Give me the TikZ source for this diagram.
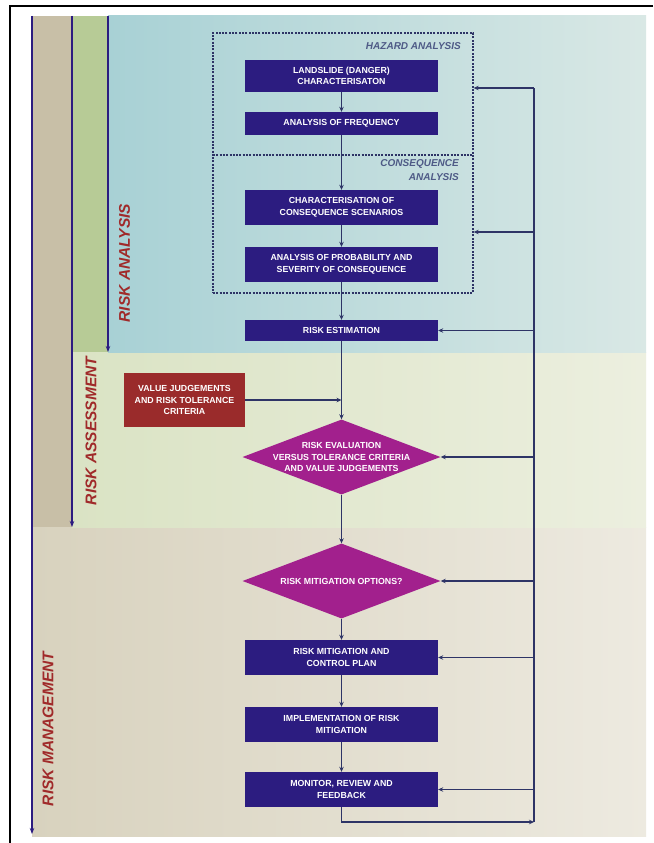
\documentclass[tikz,border=0pt]{standalone}
\usepackage{fontspec}
\setmainfont{Liberation Sans}
\usetikzlibrary{arrows.meta,shapes.geometric}
\definecolor{navy}{HTML}{2C1C80}
\definecolor{lineC}{HTML}{2E3466}
\definecolor{redbox}{HTML}{9A2B2B}
\definecolor{mag}{HTML}{A2208D}
\definecolor{lbl}{HTML}{A02A2A}
\definecolor{hzc}{HTML}{4E5A86}
\definecolor{tanS}{HTML}{C8BFA7}
\definecolor{tanL}{HTML}{D8D2BE}
\definecolor{tanR}{HTML}{EDEAE0}
\definecolor{grnS}{HTML}{B7CB96}
\definecolor{grnL}{HTML}{DAE3C4}
\definecolor{grnR}{HTML}{ECEFDF}
\definecolor{bluL}{HTML}{A8D1D5}
\definecolor{bluR}{HTML}{D9E8E5}
\begin{document}
\begin{tikzpicture}[x=1pt,y=-1pt,
  box/.style={rectangle, fill=navy, text=white, font=\bfseries\fontsize{8.8}{11.5}\selectfont, align=center, minimum width=193pt, inner sep=0pt},
  vbox/.style={rectangle, fill=redbox, text=white, font=\bfseries\fontsize{8.8}{11.5}\selectfont, align=center, minimum width=121pt, minimum height=54pt, inner sep=0pt},
  dia/.style={diamond, fill=mag, minimum width=198pt, minimum height=75pt, inner sep=0pt},
  diatext/.style={text=white, font=\bfseries\fontsize{8.8}{11.5}\selectfont, align=center, inner sep=0pt},
  side/.style={text=lbl, font=\bfseries\itshape\fontsize{15.5}{18}\selectfont, rotate=90, inner sep=0pt},
  hzlab/.style={text=hzc, font=\bfseries\itshape\fontsize{10}{14.5}\selectfont, inner sep=0pt},
  arr/.style={draw=lineC, line width=1.1pt, -{Stealth[length=5pt,width=4.5pt]}},
  plain/.style={draw=lineC, line width=1.1pt},
  bigarr/.style={draw=navy, line width=1.2pt, -{Stealth[length=6pt,width=4.5pt]}},
  dashbox/.style={draw=lineC, line width=1.3pt, dash pattern=on 2pt off 1.3pt}
]
\useasboundingbox (0,0) rectangle (653,843);
\fill[white] (0,0) rectangle (653,843);
% background regions
\shade[left color=tanL, right color=tanR] (32,527) rectangle (646,836);
\fill[tanS] (32,16) rectangle (72,527);
\shade[left color=grnL, right color=grnR] (72,352) rectangle (646,527);
\fill[grnS] (72,16) rectangle (108,352);
\shade[left color=bluL, right color=bluR] (108,16) rectangle (646,352);
% frame
\draw[black, line width=1.2pt] (653,6) -- (10,6) -- (10,843);
% region arrows
\coordinate (mT) at (32,16); \coordinate (mB) at (32,834);
\coordinate (sT) at (72,16); \coordinate (sB) at (72,527);
\coordinate (aT) at (108,16); \coordinate (aB) at (108,352);
\draw[bigarr] (mT) -- (mB);
\draw[bigarr] (sT) -- (sB);
\draw[bigarr] (aT) -- (aB);
% side labels
\node[side] (ra) at (124.5,263) {RISK ANALYSIS};
\node[side] (rs) at (91,431) {RISK ASSESSMENT};
\node[side] (rm) at (48,729) {RISK MANAGEMENT};
% dashed group
\node[dashbox, rectangle, minimum width=260pt, minimum height=260pt, inner sep=0pt] (hz) at (343,163) {};
\coordinate (divL) at (213,155); \coordinate (divR) at (473,155);
\draw[dashbox] (divL) -- (divR);
\node[hzlab, anchor=east] (hzl) at (461,46) {HAZARD ANALYSIS};
\node[hzlab, anchor=north east, align=right] (cql) at (459,159) {CONSEQUENCE\\ANALYSIS};
% flow nodes
\node[box, minimum height=32pt] (b1) at (341.5,76) {LANDSLIDE (DANGER)\\CHARACTERISATON};
\node[box, minimum height=23pt] (b2) at (341.5,123.5) {ANALYSIS OF FREQUENCY};
\node[box, minimum height=35pt] (b3) at (341.5,207.5) {CHARACTERISATION OF\\CONSEQUENCE SCENARIOS};
\node[box, minimum height=35pt] (b4) at (341.5,264.5) {ANALYSIS OF PROBABILITY AND\\SEVERITY OF CONSEQUENCE};
\node[box, minimum height=21pt] (b5) at (341.5,330.5) {RISK ESTIMATION};
\node[vbox] (vj) at (184.5,400) {VALUE JUDGEMENTS\\AND RISK TOLERANCE\\CRITERIA};
\node[dia] (d1) at (341.5,457) {};
\node[diatext] (t1) at (d1.center) {RISK EVALUATION\\VERSUS TOLERANCE CRITERIA\\AND VALUE JUDGEMENTS};
\node[dia] (d2) at (341.5,581) {};
\node[diatext] (t2) at (d2.center) {RISK MITIGATION OPTIONS?};
\node[box, minimum height=35pt] (b9) at (341.5,657.5) {RISK MITIGATION AND\\CONTROL PLAN};
\node[box, minimum height=35pt] (b10) at (341.5,724.5) {IMPLEMENTATION OF RISK\\MITIGATION};
\node[box, minimum height=35pt] (b11) at (341.5,789.5) {MONITOR, REVIEW AND\\FEEDBACK};
% main flow
\draw[arr] (b1.south) -- (b2.north);
\draw[arr] (b2.south) -- (b3.north);
\draw[arr] (b3.south) -- (b4.north);
\draw[arr] (b4.south) -- (b5.north);
\draw[arr] (b5.south) -- (d1.north);
\draw[arr] (vj.east) -- (vj.east -| b5.south);
\draw[arr] (d1.south) -- (d2.north);
\draw[arr] (d2.south) -- (b9.north);
\draw[arr] (b9.south) -- (b10.north);
\draw[arr] (b10.south) -- (b11.north);
% feedback loop
\coordinate (fbT) at (534,88);
\coordinate (fb2) at (534,232);
\coordinate (fbB) at (534,822);
\draw[arr] (b11.south) |- (fbB);
\draw[plain] (fbB) -- (fbT);
\draw[arr] (fbT) -- (fbT -| hz.east);
\draw[arr] (fb2) -- (fb2 -| hz.east);
\draw[arr] (fbT |- b5.east) -- (b5.east);
\draw[arr] (fbT |- d1.east) -- (d1.east);
\draw[arr] (fbT |- d2.east) -- (d2.east);
\draw[arr] (fbT |- b9.east) -- (b9.east);
\draw[arr] (fbT |- b11.east) -- (b11.east);
\end{tikzpicture}
\end{document}
